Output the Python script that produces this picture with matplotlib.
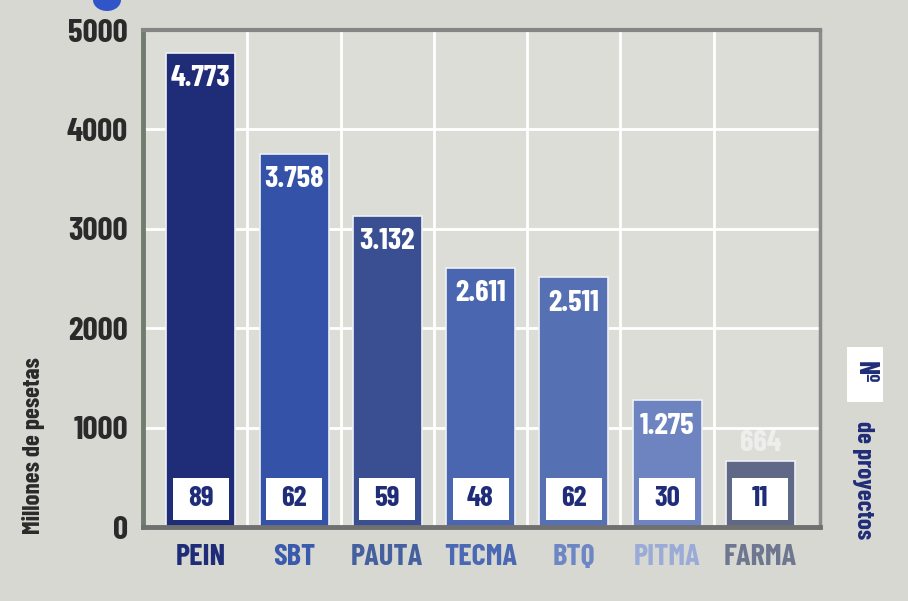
import matplotlib
matplotlib.use("Agg")
import matplotlib.pyplot as plt
from matplotlib import font_manager as fm
from matplotlib.ft2font import FT2Font
from matplotlib.textpath import TextPath
from matplotlib.patches import Rectangle, Ellipse

categories = ["PEIN", "SBT", "PAUTA", "TECMA", "BTQ", "PITMA", "FARMA"]
values = [4773, 3758, 3132, 2611, 2511, 1275, 664]
value_labels = ["4.773", "3.758", "3.132", "2.611", "2.511", "1.275", "664"]
projects = [89, 62, 59, 48, 62, 30, 11]
yticks = [0, 1000, 2000, 3000, 4000, 5000]

bar_colors = ["#1f2d78", "#3352a8", "#3a4f92", "#4a66b0", "#5670b4", "#6d84c0", "#5f6886"]
label_colors = ["#1f2d78", "#3a5aae", "#44609f", "#4a68b4", "#6d86c4", "#9aabd8", "#6f7690"]

NEEDED = "PEINSBTAUCMQFRMillonesdpyctºN0123456789."

# choose an upright bold sans font whose proportions are closest to the condensed reference type
best = None
for f in fm.fontManager.ttflist:
    if str(f.style).lower() != "normal":
        continue
    w = f.weight
    try:
        w = int(w)
    except Exception:
        w = {"bold": 700, "heavy": 800, "black": 900, "extra bold": 800,
             "semibold": 600, "demibold": 600}.get(str(w).lower(), 400)
    if w < 700:
        continue
    low = f.name.lower()
    fl = str(f.fname).lower()
    if "cjk" in low or "mono" in low or ("serif" in low and "sans" not in low):
        continue
    if "italic" in fl or "oblique" in fl:
        continue
    if not fl.endswith((".ttf", ".otf")):
        continue
    try:
        ft = FT2Font(f.fname)
        if any(ft.get_char_index(ord(c)) == 0 for c in NEEDED):
            continue
        ai = ft.load_char(ord("i")).horiAdvance
        am = ft.load_char(ord("M")).horiAdvance
        if ai == am:
            continue
        fp = fm.FontProperties(fname=f.fname)
        h = TextPath((0, 0), "0", prop=fp, size=100).get_extents().height
        r1 = TextPath((0, 0), "5000", prop=fp, size=100).get_extents().width / h
        hc = TextPath((0, 0), "P", prop=fp, size=100).get_extents().height
        r2 = TextPath((0, 0), "PAUTA", prop=fp, size=100).get_extents().width / hc
        score = abs(r1 - 2.45) + abs(r2 - 3.3) - 0.0005 * w
    except Exception:
        continue
    if h <= 0:
        continue
    if best is None or score < best[0]:
        best = (score, f.fname, h)

if best:
    FNAME = best[1]
    H100 = best[2]
else:
    FNAME = None
    H100 = 73.0


def FP(cap_px):
    size_pt = cap_px * 0.72 / (H100 / 100.0)
    if FNAME:
        return fm.FontProperties(fname=FNAME, size=size_pt)
    return fm.FontProperties(family="DejaVu Sans", weight="bold", size=size_pt)


bg = "#d7d8d1"
fig = plt.figure(figsize=(9.08, 6.01), dpi=100, facecolor=bg)
ax = fig.add_axes([0.1575, 0.123, 0.903 - 0.1575, 0.950 - 0.123])
ax.set_facecolor("#dcddd7")

x = list(range(len(categories)))
ax.set_xlim(-0.62, 6.64)
ax.set_ylim(0, 5000)

for yv in yticks[1:-1]:
    ax.axhline(yv, color="white", lw=2, zorder=1)
for i in range(len(categories) - 1):
    ax.axvline(i + 0.5, color="white", lw=2, zorder=1)

ax.bar(x, values, width=0.74, color=bar_colors, edgecolor="#eef0f4",
       linewidth=1.2, zorder=2)

for i, (v, lab) in enumerate(zip(values, value_labels)):
    if v > 1000:
        ax.text(i, v - 260, lab, ha="center", va="center", color="white",
                fontproperties=FP(22), zorder=4)
    else:
        ax.text(i, v + 180, lab, ha="center", va="center", color="#f2f2f0",
                fontproperties=FP(22), zorder=4, alpha=0.85)
    ax.add_patch(Rectangle((i - 0.30, 70), 0.60, 425, facecolor="white",
                           edgecolor="none", zorder=3))
    ax.text(i, 283, str(projects[i]), ha="center", va="center", color="#1f2d78",
            fontproperties=FP(21), zorder=4)

ax.set_yticks(yticks)
ax.set_yticklabels([str(t) for t in yticks])
for t in ax.get_yticklabels():
    t.set_fontproperties(FP(24))
    t.set_color("#2a2a2a")
ax.set_xticks(x)
ax.set_xticklabels(categories)
for t, c in zip(ax.get_xticklabels(), label_colors):
    t.set_fontproperties(FP(22))
    t.set_color(c)
ax.tick_params(axis="both", length=0)
ax.tick_params(axis="y", pad=11)
ax.tick_params(axis="x", pad=12)

ax.spines["left"].set_color("#6f7c6e")
ax.spines["left"].set_linewidth(3.5)
ax.spines["bottom"].set_color("#707070")
ax.spines["bottom"].set_linewidth(3.5)
ax.spines["top"].set_color("#858585")
ax.spines["top"].set_linewidth(3)
ax.spines["right"].set_color("#8a8a8a")
ax.spines["right"].set_linewidth(2.5)

ax.set_ylabel("Millones de pesetas", fontproperties=FP(18), color="#2a2a2a")
ax.yaxis.set_label_coords(-0.145, 0.163)

# right-side label
fig.patches.append(Rectangle((847 / 908, 1 - 402 / 601), 36 / 908, 55 / 601,
                             transform=fig.transFigure, facecolor="white",
                             edgecolor="none"))
fig.text(865 / 908, 1 - 372 / 601, "Nº", rotation=-90, ha="center", va="center",
         fontproperties=FP(20), color="#1f2d78")
fig.text(863 / 908, 1 - 480 / 601, "de proyectos", rotation=-90, ha="center",
         va="center", fontproperties=FP(18), color="#1f2d78")

# decorative circle at top
fig.patches.append(Ellipse((107 / 908, 1.0), 28 / 908, 22 / 601,
                           transform=fig.transFigure, facecolor="#2f55c8",
                           edgecolor="none"))

fig.savefig("out.png", dpi=100, facecolor=bg)
